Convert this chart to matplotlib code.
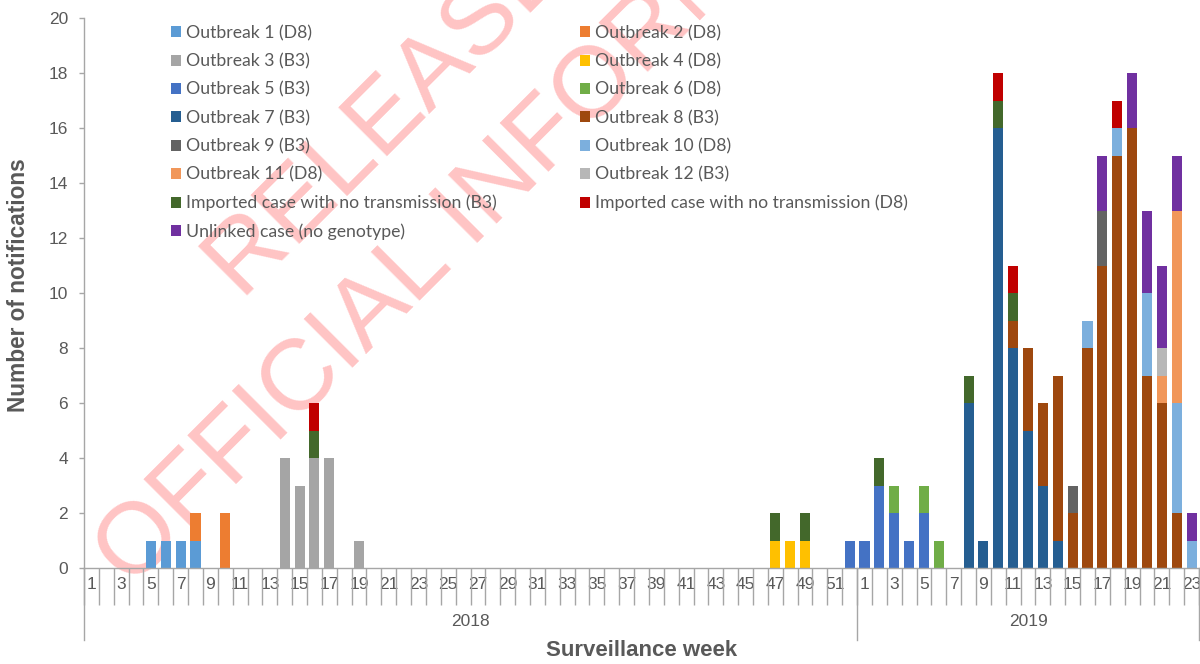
import matplotlib
matplotlib.use("Agg")
import matplotlib.pyplot as plt
from matplotlib.patches import Patch
import matplotlib.transforms as mtransforms
import numpy as np

# ---------------- data ----------------
weeks_2018 = list(range(1, 53))
weeks_2019 = list(range(1, 24))
years = ["2018", "2019"]

series_names = [
    "Outbreak 1 (D8)", "Outbreak 2 (D8)", "Outbreak 3 (B3)", "Outbreak 4 (D8)",
    "Outbreak 5 (B3)", "Outbreak 6 (D8)", "Outbreak 7 (B3)", "Outbreak 8 (B3)",
    "Outbreak 9 (B3)", "Outbreak 10 (D8)", "Outbreak 11 (D8)", "Outbreak 12 (B3)",
    "Imported case with no transmission (B3)", "Imported case with no transmission (D8)",
    "Unlinked case (no genotype)",
]
series_colors = [
    "#5B9BD5", "#ED7D31", "#A5A5A5", "#FFC000",
    "#4472C4", "#70AD47", "#255E91", "#9E480E",
    "#636363", "#7CAFDD", "#F1975A", "#B7B7B7",
    "#43682B", "#C00000", "#7030A0",
]

# counts keyed by (year, week)
outbreak_1 = {(2018, 5): 1, (2018, 6): 1, (2018, 7): 1, (2018, 8): 1}
outbreak_2 = {(2018, 8): 1, (2018, 10): 2}
outbreak_3 = {(2018, 14): 4, (2018, 15): 3, (2018, 16): 4, (2018, 17): 4, (2018, 19): 1}
outbreak_4 = {(2018, 47): 1, (2018, 48): 1, (2018, 49): 1}
outbreak_5 = {(2018, 52): 1, (2019, 1): 1, (2019, 2): 3, (2019, 3): 2, (2019, 4): 1, (2019, 5): 2}
outbreak_6 = {(2019, 3): 1, (2019, 5): 1, (2019, 6): 1}
outbreak_7 = {(2019, 8): 6, (2019, 9): 1, (2019, 10): 16, (2019, 11): 8, (2019, 12): 5,
              (2019, 13): 3, (2019, 14): 1}
outbreak_8 = {(2019, 11): 1, (2019, 12): 3, (2019, 13): 3, (2019, 14): 6, (2019, 15): 2,
              (2019, 16): 8, (2019, 17): 11, (2019, 18): 15, (2019, 19): 16, (2019, 20): 7,
              (2019, 21): 6, (2019, 22): 2}
outbreak_9 = {(2019, 15): 1, (2019, 17): 2}
outbreak_10 = {(2019, 16): 1, (2019, 18): 1, (2019, 20): 3, (2019, 22): 4, (2019, 23): 1}
outbreak_11 = {(2019, 21): 1, (2019, 22): 7}
outbreak_12 = {(2019, 21): 1}
imported_b3 = {(2018, 16): 1, (2018, 47): 1, (2018, 49): 1, (2019, 2): 1, (2019, 8): 1,
               (2019, 10): 1, (2019, 11): 1}
imported_d8 = {(2018, 16): 1, (2019, 10): 1, (2019, 11): 1, (2019, 18): 1}
unlinked = {(2019, 17): 2, (2019, 19): 2, (2019, 20): 3, (2019, 21): 3, (2019, 22): 2,
            (2019, 23): 1}

series_data = [outbreak_1, outbreak_2, outbreak_3, outbreak_4, outbreak_5, outbreak_6,
               outbreak_7, outbreak_8, outbreak_9, outbreak_10, outbreak_11, outbreak_12,
               imported_b3, imported_d8, unlinked]

# ---------------- figure ----------------
TXT = "#595959"
LINE = "#A6A6A6"
W, H = 1200, 664
fig = plt.figure(figsize=(12, 6.64), dpi=100)
ax_l, ax_r, ax_b, ax_t = 84, 1199, 568, 18
ax = fig.add_axes([ax_l / W, 1 - ax_b / H, (ax_r - ax_l) / W, (ax_b - ax_t) / H])
ax.patch.set_facecolor("none")

cats = [(2018, w) for w in weeks_2018] + [(2019, w) for w in weeks_2019]
x = np.arange(len(cats))
bottom = np.zeros(len(cats))
handles = []
for name, col, d in zip(series_names, series_colors, series_data):
    vals = np.array([d.get(c, 0) for c in cats], dtype=float)
    ax.bar(x, vals, width=0.68, bottom=bottom, color=col, edgecolor="none", zorder=2)
    bottom += vals
    handles.append(Patch(facecolor=col, edgecolor="none", label=name))

ax.set_xlim(-0.5, len(cats) - 0.5)
ax.set_ylim(0, 20)
ax.set_yticks(np.arange(0, 21, 2))
ax.tick_params(axis="y", colors=LINE, labelcolor=TXT, labelsize=12.5, length=3.6,
               width=1, pad=8)
for lab in ax.get_yticklabels():
    lab.set_fontfamily("Liberation Sans")

ax.set_xticks(x)
ax.set_xticklabels([str(w) if w % 2 == 1 else "" for (_, w) in cats],
                   fontfamily="Liberation Sans")
ax.set_xticks(np.arange(-0.5, len(cats), 1.0), minor=True)
ax.tick_params(axis="x", which="major", length=0, labelsize=12.5, labelcolor=TXT, pad=6.5)
ax.tick_params(axis="x", which="minor", length=26.6, width=1, color=LINE)

for s in ["top", "right"]:
    ax.spines[s].set_visible(False)
for s in ["left", "bottom"]:
    ax.spines[s].set_color(LINE)
    ax.spines[s].set_linewidth(1)

# year group separators and labels
trans = mtransforms.blended_transform_factory(ax.transData, ax.transAxes)
axh = ax_b - ax_t
n18 = len(weeks_2018)
for xb in [-0.5, n18 - 0.5, len(cats) - 0.5]:
    ax.plot([xb, xb], [0, -(640 - ax_b) / axh], transform=trans, color=LINE, lw=1,
            clip_on=False, zorder=1)
ax.text((-0.5 + n18 - 0.5) / 2, -(622 - ax_b) / axh, years[0], transform=trans,
        ha="center", va="center", fontsize=12.5, color=TXT, fontfamily="Liberation Sans")
ax.text((n18 - 0.5 + len(cats) - 0.5) / 2, -(622 - ax_b) / axh, years[1], transform=trans,
        ha="center", va="center", fontsize=12.5, color=TXT, fontfamily="Liberation Sans")

fig.text((ax_l + ax_r) / 2 / W, 1 - 651 / H, "Surveillance week", ha="center", va="center",
         fontsize=16, fontweight="bold", color=TXT, fontfamily="Liberation Sans")
fig.text(19 / W, 1 - 285 / H, "Number of notifications", ha="center", va="center",
         rotation=90, fontsize=16.3, fontweight="bold", color=TXT, fontfamily="Liberation Sans")

# legend: two columns
order1 = [0, 2, 4, 6, 8, 10, 12, 14]
order2 = [1, 3, 5, 7, 9, 11, 13]
common = dict(frameon=False, handlelength=0.58, handleheight=0.58,
              handletextpad=0.25, labelspacing=0.69, borderpad=0, borderaxespad=0,
              loc="upper left", prop={"family": "Lato", "size": 12.7})
leg1 = fig.legend([handles[i] for i in order1], [series_names[i] for i in order1],
                  bbox_to_anchor=(171 / W, 1 - 25 / H), **common)
leg2 = fig.legend([handles[i] for i in order2], [series_names[i] for i in order2],
                  bbox_to_anchor=(580 / W, 1 - 25 / H), **common)
for lg in (leg1, leg2):
    for t in lg.get_texts():
        t.set_color(TXT)

# watermark
wm = dict(rotation=45, rotation_mode="anchor", ha="left", va="baseline", fontsize=73,
          color="#FFC4C4", fontfamily="Liberation Sans", zorder=-1)
fig.text(242.7 / W, 362.7 / H, "RELEASED UNDER THE", **wm)
fig.text(131.3 / W, 74.9 / H, "OFFICIAL INFORMATION ACT", **wm)

fig.savefig("out.png", dpi=100)
